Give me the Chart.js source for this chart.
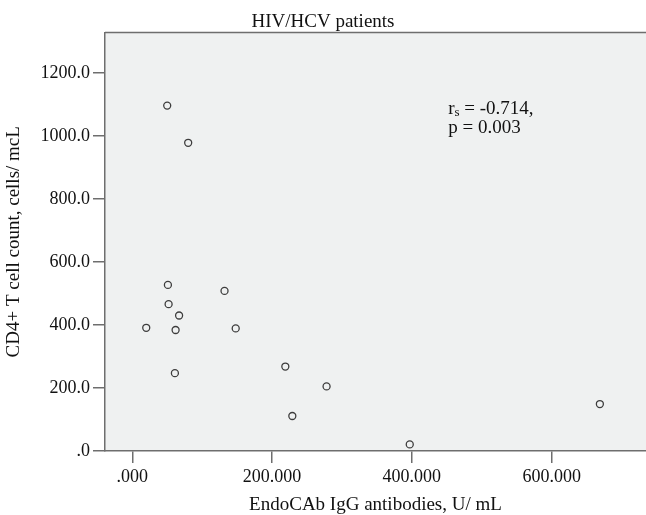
<!DOCTYPE html>
<html>
<head>
<meta charset="utf-8">
<title>HIV/HCV patients</title>
<script src="https://cdn.jsdelivr.net/npm/chart.js@4.4.1/dist/chart.umd.min.js"></script>
<style>
    body { margin: 0; background: #ffffff; overflow: hidden; }
    #wrap { width: 646px; height: 515px; }
    canvas { display: block; }
</style>
</head>
<body>
<div id="wrap"><canvas id="myChart" width="646" height="515"></canvas></div>
<script>
// EndoCAb IgG (U/mL) vs CD4+ T cell count (cells/mcL), one entry per patient
const endocabValues = [50, 80, 51, 132, 52, 67, 20, 62, 148, 61, 219, 278, 229, 397, 669];
const cd4Values = [1096, 978, 527, 508, 466, 430, 391, 384, 389, 247, 268, 205, 111, 21, 149];

const xTicks = [0, 200, 400, 600];
const xTickLabels = [".000", "200.000", "400.000", "600.000"];
const yTicks = [0, 200, 400, 600, 800, 1000, 1200];
const yTickLabels = [".0", "200.0", "400.0", "600.0", "800.0", "1000.0", "1200.0"];

const chartTitle = "HIV/HCV patients";
const xTitle = "EndoCAb IgG antibodies, U/ mL";
const yTitle = "CD4+ T cell count, cells/ mcL";
const statR = "-0.714";
const statP = "0.003";

const serif = "'Liberation Serif', 'Times New Roman', serif";
const axisColor = "#6e6e6e";
const textColor = "#111111";
let myChart;

// grey plot background plus the top frame line
const plotBackground = {
    id: 'plotBackground',
    beforeDraw(chart) {
        const {ctx, chartArea: a} = chart;
        ctx.save();
        ctx.fillStyle = "#eff1f1";
        ctx.fillRect(a.left, a.top, a.right - a.left, a.bottom - a.top);
        ctx.strokeStyle = axisColor;
        ctx.lineWidth = 1.5;
        ctx.beginPath();
        ctx.moveTo(a.left, a.top);
        ctx.lineTo(a.right, a.top);
        ctx.stroke();
        ctx.restore();
    }
};

// spearman text in the upper right
const statsText = {
    id: 'statsText',
    afterDraw(chart) {
        const {ctx, scales} = chart;
        const x = scales.x.getPixelForValue(452);
        const y1 = scales.y.getPixelForValue(1086);
        const y2 = y1 + 19;
        ctx.save();
        ctx.fillStyle = textColor;
        ctx.textBaseline = "middle";
        ctx.font = "19px " + serif;
        ctx.fillText("r", x, y1);
        let w = ctx.measureText("r").width;
        ctx.font = "13px " + serif;
        ctx.fillText("s", x + w, y1 + 4);
        w += ctx.measureText("s").width;
        ctx.font = "19px " + serif;
        ctx.fillText(" = " + statR + ",", x + w, y1);
        ctx.fillText("p = " + statP, x, y2);
        ctx.restore();
    }
};

function setChart(){
    const ctx = document.getElementById('myChart').getContext('2d');

    const points = endocabValues.map((v, i) => ({x: v, y: cd4Values[i]}));

    const grid = {
        drawOnChartArea: false,
        drawTicks: true,
        tickLength: 12,
        tickColor: axisColor,
        lineWidth: 1.5,
    };
    const border = { display: true, color: axisColor, width: 1.5 };

    if(myChart) {
        myChart.destroy();
    }

    myChart = new Chart(ctx, {
        type: 'scatter',
        data: {
            datasets: [{
                data: points,
                pointStyle: 'circle',
                pointRadius: 3.5,
                pointHoverRadius: 3.5,
                borderWidth: 1.3,
                borderColor: "#3d3d3d",
                backgroundColor: "rgba(0,0,0,0)"
            }]
        },
        options: {
            responsive: false,
            animation: false,
            layout: { padding: 0, autoPadding: false },
            plugins: {
                legend: { display: false },
                tooltip: { enabled: false },
                title: {
                    display: true,
                    text: chartTitle,
                    color: textColor,
                    font: { family: serif, size: 19, weight: 'normal', lineHeight: 1 },
                    padding: { top: 13, bottom: 0.5 }
                }
            },
            scales: {
                x: {
                    type: 'linear',
                    min: -39,
                    max: 735,
                    grid,
                    border,
                    afterBuildTicks: (axis) => { axis.ticks = xTicks.map(v => ({value: v})); },
                    afterFit: (axis) => { axis.height = 64; },
                    ticks: {
                        color: textColor,
                        padding: 3,
                        maxRotation: 0,
                        font: { family: serif, size: 18 },
                        callback: (value) => xTickLabels[xTicks.indexOf(value)]
                    },
                    title: {
                        display: true,
                        text: xTitle,
                        color: textColor,
                        font: { family: serif, size: 19, lineHeight: 1 },
                        padding: { top: 0, bottom: 0.5 }
                    }
                },
                y: {
                    type: 'linear',
                    min: 0,
                    max: 1328,
                    grid,
                    border,
                    afterBuildTicks: (axis) => { axis.ticks = yTicks.map(v => ({value: v})); },
                    afterFit: (axis) => { axis.width = 105; },
                    ticks: {
                        color: textColor,
                        padding: 3,
                        font: { family: serif, size: 18 },
                        callback: (value) => yTickLabels[yTicks.indexOf(value)]
                    },
                    title: {
                        display: true,
                        text: yTitle,
                        color: textColor,
                        font: { family: serif, size: 19, lineHeight: 1 },
                        padding: { top: 4.5, bottom: 0 }
                    }
                }
            }
        },
        plugins: [plotBackground, statsText]
    });
}

window.addEventListener("load", setChart, false);
</script>
</body>
</html>
